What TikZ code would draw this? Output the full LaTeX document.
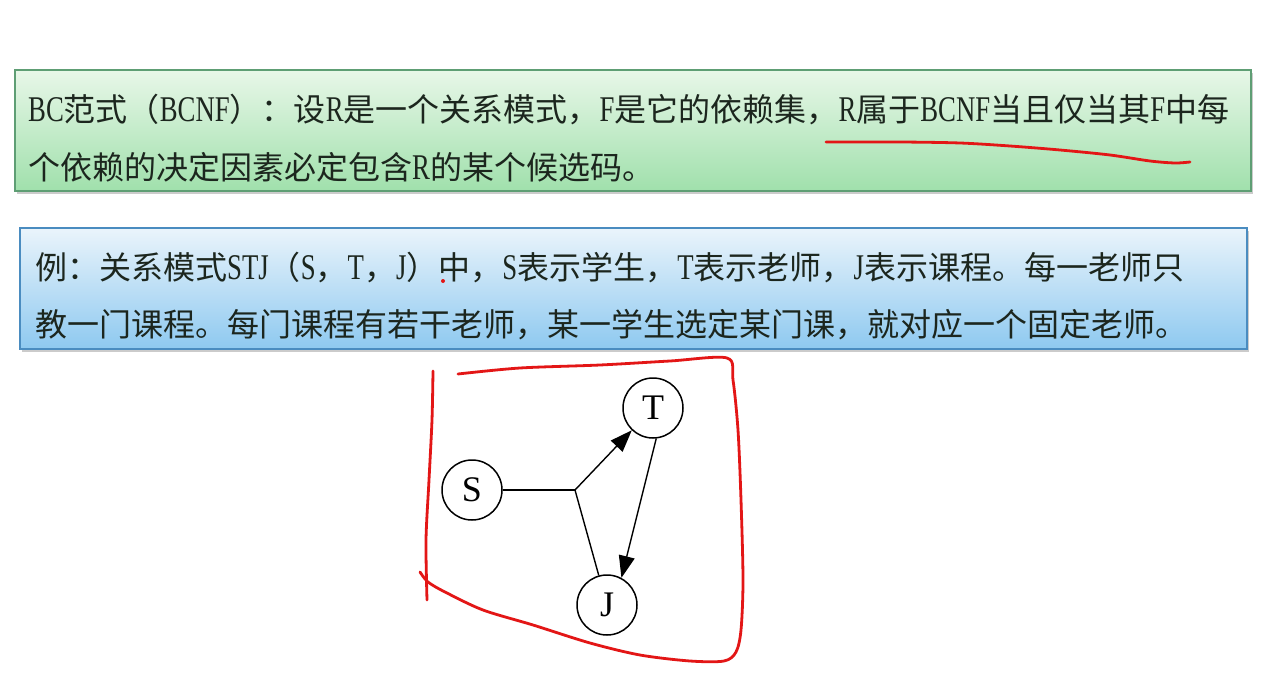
\documentclass[tikz,border=0pt]{standalone}
\usepackage{fontspec}
\setmainfont{Liberation Serif}
\newfontfamily\cjk{Noto Sans CJK SC}
\newfontfamily\lat[FakeStretch=0.74,Scale=1.13]{Liberation Serif}
\usetikzlibrary{shadows,arrows.meta}
\newcommand{\La}[1]{{\lat #1}}
\definecolor{gtop}{HTML}{E8F7E8}
\definecolor{gbot}{HTML}{A0E0AC}
\definecolor{gbrd}{HTML}{5E9E74}
\definecolor{btop}{HTML}{EAF4FB}
\definecolor{bbot}{HTML}{8EC9F0}
\definecolor{bbrd}{HTML}{4A8CC0}
\definecolor{ink}{HTML}{1C261E}
\definecolor{pen}{HTML}{E31616}
\tikzset{
  x=1pt, y=-1pt,
  greenbox/.style={draw=gbrd, line width=1.2pt, top color=gtop, bottom color=gbot,
    drop shadow={shadow xshift=2pt, shadow yshift=-3pt, fill=black!40, opacity=0.5}},
  bluebox/.style={draw=bbrd, line width=1.2pt, top color=btop, bottom color=bbot,
    drop shadow={shadow xshift=2pt, shadow yshift=-3pt, fill=black!40, opacity=0.5}},
  txt/.style={anchor=west, inner sep=0pt, text=ink, font=\cjk\fontsize{32}{36}\selectfont},
  vert/.style={draw, circle, minimum size=60pt, inner sep=0pt, line width=1.5pt,
    font=\fontsize{36}{38}\selectfont},
  edge/.style={line width=1.4pt},
  arr/.style={line width=1.4pt, -{Triangle[length=22pt,width=16pt]}},
  redpen/.style={draw=pen, line width=2.8pt, line cap=round, line join=round},
}
\begin{document}
\begin{tikzpicture}
\useasboundingbox (0,0) rectangle (1288,695);
\fill[white] (0,0) rectangle (1288,695);

% green definition box
\path[greenbox] (15,70) rectangle (1251,191);
\node[txt] (g1) at (28,110) {\La{BC}范式（\La{BCNF}）：设\La{R}是一个关系模式，\La{F}是它的依赖集，\La{R}属于\La{BCNF}当且仅当其\La{F}中每};
\node[txt] (g2) at (28,167) {个依赖的决定因素必定包含\La{R}的某个候选码。};

% blue example box
\path[bluebox] (20,228) rectangle (1247,349);
\node[txt] (b1) at (35,268) {例：关系模式\La{STJ}（\La{S}，\La{T}，\La{J}）中，\La{S}表示学生，\La{T}表示老师，\La{J}表示课程。每一老师只};
\node[txt] (b2) at (35,325) {教一门课程。每门课程有若干老师，某一学生选定某门课，就对应一个固定老师。};

% graph
\node[vert] (S) at (472,490) {S};
\node[vert] (T) at (653,408) {T};
\node[vert] (J) at (607,605) {J};
\coordinate (jn) at (575,490);
\draw[edge] (S) -- (jn);
\draw[arr] (jn) -- (T);
\draw[edge] (jn) -- (J);
\draw[arr] (T.-84) -- (J.62);

% red hand annotations
\draw[redpen] plot[smooth, tension=0.5] coordinates {(826,142) (900,142) (960,143) (1010,146) (1060,150) (1110,155) (1150,161) (1175,163) (1190,162)};
\fill[pen] (443,281) circle (2pt);
\draw[redpen] plot[smooth, tension=0.5] coordinates {(433,371) (432,420) (429,480) (426,540) (427,600)};
\draw[redpen] plot[smooth, tension=0.5] coordinates {(458,374) (520,368) (600,365) (670,361) (727,358) (733,380) (738,430) (741,500) (743,580) (741,630) (736,652) (724,661) (690,661) (640,655) (590,643) (533,625) (483,610) (445,592) (428,582) (420,572)};
\end{tikzpicture}
\end{document}
